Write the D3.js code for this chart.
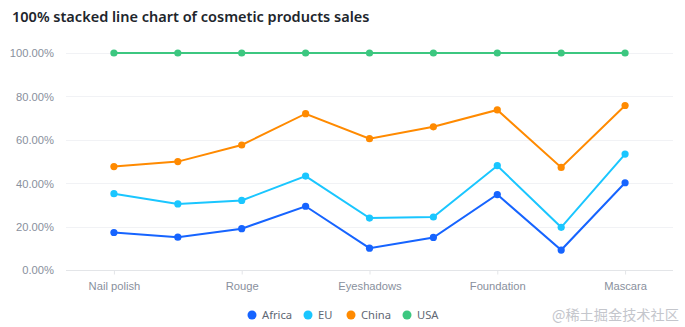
<!DOCTYPE html>
<html><head><meta charset="utf-8">
<script src="https://cdn.jsdelivr.net/npm/d3@7"></script>
<style>body{margin:0;background:#fff;}svg{display:block;font-family:"Noto Sans",Roboto,sans-serif;}</style>
</head><body><svg id="c" width="685" height="327"></svg>
<script>
const categories = ["Nail polish","Eyebrow pencil","Rouge","Lipstick","Eyeshadows","Eyeliner","Foundation","Lip gloss","Mascara"];
const seriesNames = ["Africa","EU","China","USA"];
const africa = [4229,3932,5221,9256,3308,5432,13701,4008,18712];
const eu     = [4376,3987,3574,4376,4572,3417,5231,4572,6134];
const china  = [3054,5067,7004,9054,12043,15067,10119,12043,10419];
const usa    = [12814,13012,11624,8814,12998,12321,10342,22998,11261];
const yTicks = [0,0.2,0.4,0.6,0.8,1];
const colors = ["#1664FF","#1AC6FF","#FF8A00","#3CC780"];

const rows = categories.map((c,i)=>({cat:c, Africa:africa[i], EU:eu[i], China:china[i], USA:usa[i]}));
const stacked = d3.stack().keys(seriesNames).offset(d3.stackOffsetExpand)(rows);

const svg = d3.select("#c");
const L=66, R=673, T=53, B=270;
const x = d3.scalePoint().domain(categories).range([L,R]).padding(0.75);
const y = d3.scaleLinear().domain([0,1]).range([B,T]);

svg.append("text").attr("x",12).attr("y",22).attr("font-size",14.5).attr("font-weight",600)
  .attr("fill","#21252c").text("100% stacked line chart of cosmetic products sales");

// grid
svg.append("g").selectAll("line").data(yTicks.filter(d=>d>0)).join("line")
  .attr("x1",L).attr("x2",R).attr("y1",d=>Math.round(y(d))+0.5).attr("y2",d=>Math.round(y(d))+0.5)
  .attr("stroke","#f1f2f5").attr("stroke-width",1);

// y axis
const ya = svg.append("g").attr("transform",`translate(${L-12},0)`)
  .call(d3.axisLeft(y).tickValues(yTicks).tickSize(0).tickFormat(d3.format(".2%")));
ya.select(".domain").remove();
ya.selectAll("text").attr("fill","#89909d").attr("font-size",11.2).attr("dy","0.35em").attr("x",0);

// x axis
const xa = svg.append("g").attr("transform",`translate(0,${B+0.5})`)
  .call(d3.axisBottom(x).tickSize(4).tickPadding(8).tickFormat((d,i)=> i%2===0 ? d : ""));
xa.select(".domain").attr("stroke","#e3e5e8").attr("d",`M${L},0H${R}`);
xa.selectAll(".tick line").attr("stroke","#e3e5e8").attr("opacity",(d,i)=>i%2===0?1:0);
xa.selectAll("text").attr("fill","#89909d").attr("font-size",11.2);

// lines
const line = d3.line().x(d=>x(d.data.cat)).y(d=>y(d[1]));
const g = svg.append("g");
stacked.forEach((s,k)=>{
  g.append("path").datum(s).attr("d",line).attr("fill","none").attr("stroke",colors[k]).attr("stroke-width",2);
});
stacked.forEach((s,k)=>{
  g.append("g").selectAll("circle").data(s).join("circle")
    .attr("cx",d=>x(d.data.cat)).attr("cy",d=>y(d[1])).attr("r",3.6).attr("fill",colors[k]);
});

// legend
const lx = [252,308,351,407];
const lg = svg.append("g");
seriesNames.forEach((n,i)=>{
  lg.append("circle").attr("cx",lx[i]).attr("cy",315).attr("r",4.5).attr("fill",colors[i]);
  lg.append("text").attr("x",lx[i]+10).attr("y",315).attr("dy","0.35em").attr("font-size",11.2)
    .attr("fill","#606773").text(n);
});

// watermark
svg.append("text").attr("x",552).attr("y",315).attr("dy","0.35em").attr("font-size",14.2)
  .attr("font-family","'Noto Sans CJK SC',sans-serif").attr("fill","#c4c6cc").text("@稀土掘金技术社区");
</script></body></html>
